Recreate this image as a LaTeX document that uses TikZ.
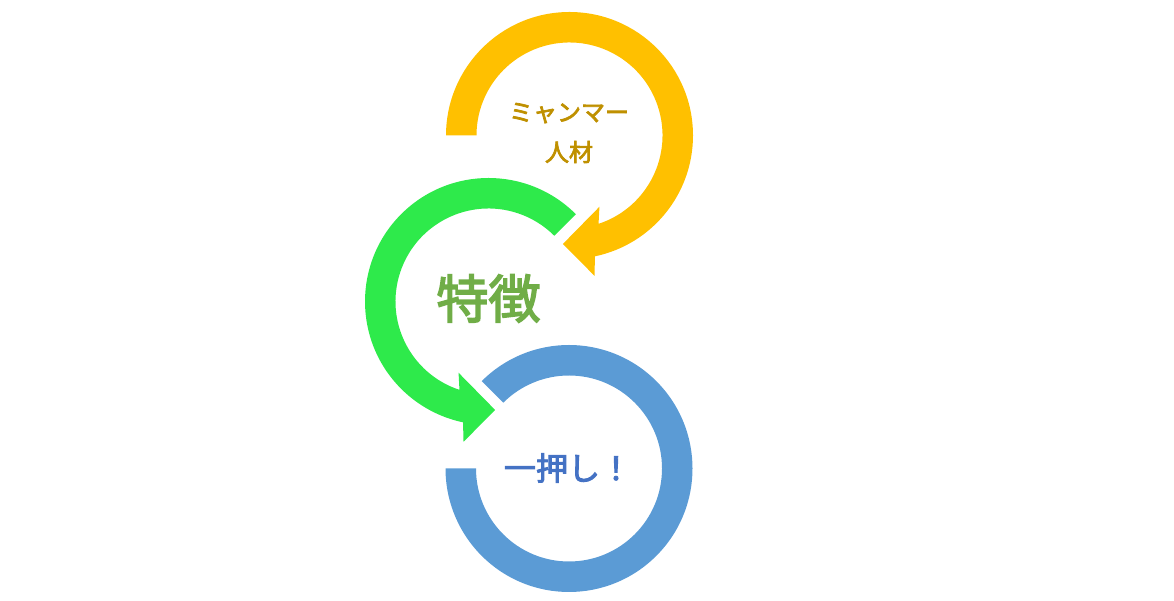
\documentclass[tikz,border=0pt]{standalone}
\usepackage{fontspec}
\setmainfont{Noto Sans CJK JP}
\newfontfamily\lblfont[FakeBold=3]{Noto Sans CJK JP}
\usetikzlibrary{calc}
\definecolor{ringyellow}{HTML}{FFC000}
\definecolor{ringgreen}{HTML}{2EEA4B}
\definecolor{ringblue}{HTML}{5B9BD5}
\definecolor{txtgold}{HTML}{BF9000}
\definecolor{txtgreen}{HTML}{70AD47}
\definecolor{txtblue}{HTML}{4472C4}
\tikzset{
  lbl/.style={inner sep=0pt, align=center},
}
\begin{document}
\begin{tikzpicture}[x=1pt,y=1pt]
\useasboundingbox (0,0) rectangle (1174,601);
\coordinate (yc) at (569.5,465.5);
\coordinate (gc) at (488.5,299.5);
\coordinate (bc) at (569,132.5);
% yellow ring with arrowhead
\fill[ringyellow] ($(yc)+(180:123.5pt)$) arc[start angle=180,end angle=-78.1,radius=123.5pt]
  -- ($(yc)+(-79.9:142.5pt)$) -- ($(yc)+(-93.5:108.7pt)$) -- ($(yc)+(-67.2:77.3pt)$)
  -- ($(yc)+(-71.8:93pt)$) arc[start angle=-71.8,end angle=180,radius=93pt] -- cycle;
% green ring with arrowhead
\fill[ringgreen] ($(gc)+(45:123.5pt)$) arc[start angle=45,end angle=258.1,radius=123.5pt]
  -- ($(gc)+(259.9:142.5pt)$) -- ($(gc)+(273.5:108.7pt)$) -- ($(gc)+(247.2:77.3pt)$)
  -- ($(gc)+(251.8:93pt)$) arc[start angle=251.8,end angle=45,radius=93pt] -- cycle;
% blue ring
\fill[ringblue] ($(bc)+(135:123.5pt)$) arc[start angle=135,end angle=-180,radius=123.5pt]
  -- ($(bc)+(180:93pt)$) arc[start angle=-180,end angle=135,radius=93pt] -- cycle;
% labels
\node[lbl, text=txtgold, font=\lblfont\fontsize{24}{40}\selectfont] (t1) at (569,468) {ミャンマー\\人材};
\node[lbl, text=txtgreen, font=\lblfont\fontsize{52}{60}\selectfont] (t2) at (488.5,302.5) {特徴};
\node[lbl, text=txtblue, font=\lblfont\fontsize{32}{40}\selectfont] (t3) at (568,133) {一押し！};
\end{tikzpicture}
\end{document}
